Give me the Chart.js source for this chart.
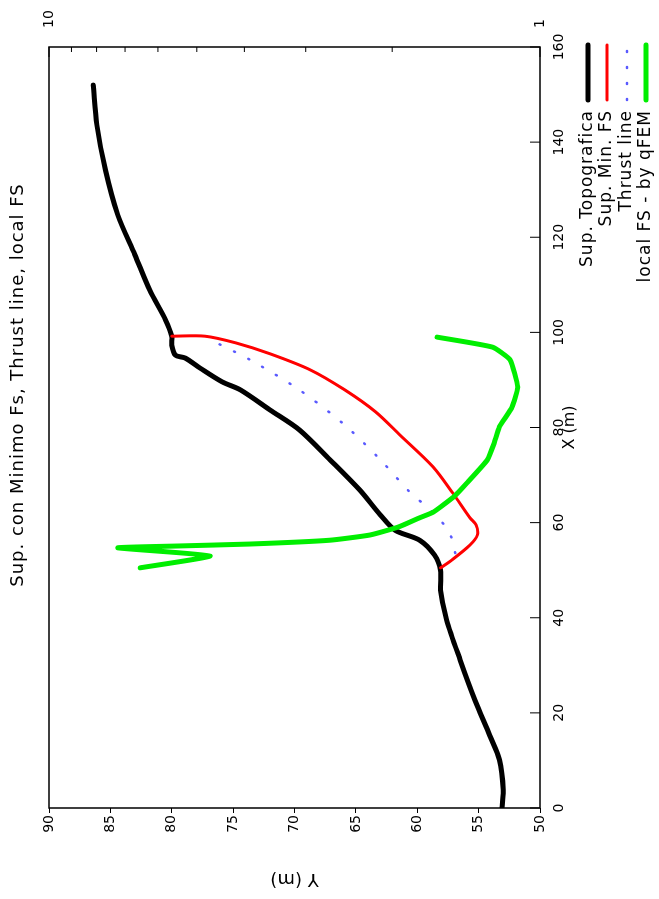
<!DOCTYPE html>
<html>
<head>
<meta charset="utf-8">
<title>Sup. con Minimo Fs</title>
<script src="https://cdn.jsdelivr.net/npm/chart.js@4.4.1/dist/chart.umd.min.js"></script>
<style>
  html, body { margin: 0; padding: 0; background: #fff; overflow: hidden; }
  /* the chart is drawn upright on a 899x659 canvas, then turned a quarter left */
  #wrap { position: absolute; left: 0; top: 0; width: 899px; height: 659px;
          transform-origin: 0 0; transform: translate(0, 899px) rotate(-90deg); }
</style>
</head>
<body>
<div id="wrap"><canvas id="chart" width="899" height="659"></canvas></div>
<script>
// Sup. Topografica (black)
const topoX = [0, 3.8, 10.1, 15.3, 22.7, 31.1, 39.5, 45.8, 50.0, 53.2, 56.3, 58.4, 61.6, 66.9, 73.2, 79.5, 83.7, 87.9, 89.6, 92.5, 94.6, 95.2, 97.3, 99.2, 102.6, 108.9, 116.3, 124.7, 134.1, 143.6, 152.0];
const topoY = [53.1, 53.0, 53.3, 54.1, 55.3, 56.5, 57.6, 58.1, 58.1, 58.6, 59.8, 61.8, 63.0, 64.7, 67.1, 69.6, 72.0, 74.4, 75.9, 77.7, 78.9, 79.7, 80.0, 80.0, 80.5, 81.8, 83.0, 84.4, 85.4, 86.1, 86.4];

// Sup. Min. FS (red)
const minX = [50.5, 52.1, 55.3, 57.4, 59.5, 61.0, 66.2, 71.7, 78.4, 83.3, 87.9, 92.1, 95.5, 97.8, 99.2, 99.2];
const minY = [58.1, 57.2, 55.7, 55.1, 55.2, 55.7, 57.1, 58.7, 61.4, 63.4, 65.9, 68.7, 72.0, 74.8, 77.3, 80.0];

// Thrust line (blue dots)
const thrustX = [53.6, 57.4, 60.8, 63.7, 66.4, 73.2, 80.5, 87.9, 94.2, 98.0];
const thrustY = [56.9, 57.3, 58.2, 59.4, 60.6, 63.0, 65.9, 69.6, 73.6, 76.5];

// local FS - by qFEM (green, right log axis)
const fsX = [99.0, 96.9, 94.2, 88.5, 84.3, 80.1, 76.7, 73.2, 68.3, 65.4, 62.2, 61.0, 59.1, 57.4, 56.3, 55.5, 55.1, 54.7, 53.0, 50.5];
const fsVal = [1.62, 1.25, 1.15, 1.11, 1.14, 1.21, 1.24, 1.28, 1.41, 1.50, 1.65, 1.76, 1.94, 2.22, 2.68, 3.90, 5.41, 7.24, 4.70, 6.52];

// ticks
const xTickValues = [0, 20, 40, 60, 80, 100, 120, 140, 160];
const yTickValues = [50, 55, 60, 65, 70, 75, 80, 85, 90];
const y2TickValues = [1, 2, 3, 4, 5, 6, 7, 8, 9, 10];
const y2Labels = [1, 10];

const legendLabels = ['Sup. Topografica', 'Sup. Min. FS', 'Thrust line', 'local FS - by qFEM'];
const titleText = 'Sup. con Minimo Fs, Thrust line, local FS';

const FONT = '"DejaVu Sans", sans-serif';

const zip = (xs, ys) => xs.map((x, i) => ({ x, y: ys[i] }));

// gnuplot-ish extras: frame, inward tics, title, legend
const gnuplotDecor = {
  id: 'gnuplotDecor',
  afterDraw(chart) {
    const { ctx, chartArea: a, scales } = chart;
    ctx.save();
    ctx.strokeStyle = '#000';
    ctx.lineWidth = 1.5;
    ctx.strokeRect(a.left, a.top, a.right - a.left, a.bottom - a.top);

    ctx.lineWidth = 1;
    ctx.beginPath();
    xTickValues.forEach(v => {
      const px = scales.x.getPixelForValue(v);
      ctx.moveTo(px, a.bottom);
      ctx.lineTo(px, a.bottom - 10);
    });
    y2TickValues.forEach(v => {
      const py = scales.y2.getPixelForValue(v);
      const len = y2Labels.includes(v) ? 10 : 5;
      ctx.moveTo(a.right, py);
      ctx.lineTo(a.right - len, py);
    });
    ctx.stroke();

    ctx.fillStyle = '#000';
    ctx.font = '18px ' + FONT;
    ctx.letterSpacing = '1px';
    ctx.textAlign = 'center';
    ctx.textBaseline = 'middle';
    ctx.fillText(titleText, 514, 18);

    // legend: text right-aligned, sample on the right
    ctx.font = '17px ' + FONT;
    const rows = [588, 607, 627, 646];
    chart.data.datasets.forEach((ds, i) => {
      const y = rows[i];
      ctx.fillStyle = '#000';
      ctx.textAlign = 'right';
      ctx.fillText(legendLabels[i], 789, y);
      ctx.beginPath();
      ctx.strokeStyle = ds.borderColor;
      ctx.lineWidth = ds.borderWidth;
      ctx.lineCap = ds.borderCapStyle || 'butt';
      ctx.setLineDash(ds.borderDash || []);
      ctx.moveTo(799, y);
      ctx.lineTo(854, y);
      ctx.stroke();
      ctx.setLineDash([]);
    });
    ctx.restore();
  }
};

const ctx = document.getElementById('chart');
new Chart(ctx, {
  type: 'scatter',
  data: {
    datasets: [
      { label: legendLabels[0], data: zip(topoX, topoY), yAxisID: 'y', showLine: true,
        borderColor: '#000000', borderWidth: 5, tension: 0.3, pointRadius: 0,
        borderCapStyle: 'round', borderJoinStyle: 'round', order: 4 },
      { label: legendLabels[1], data: zip(minX, minY), yAxisID: 'y', showLine: true,
        borderColor: '#ff0000', borderWidth: 3, tension: 0.3, pointRadius: 0,
        borderCapStyle: 'round', borderJoinStyle: 'round', order: 3 },
      { label: legendLabels[2], data: zip(thrustX, thrustY), yAxisID: 'y', showLine: true,
        borderColor: '#5a5aff', borderWidth: 2.5, tension: 0.3, pointRadius: 0,
        borderDash: [1, 15], borderCapStyle: 'round', order: 2 },
      { label: legendLabels[3], data: zip(fsX, fsVal), yAxisID: 'y2', showLine: true,
        borderColor: '#00ee00', borderWidth: 5, tension: 0.15, pointRadius: 0,
        borderCapStyle: 'round', borderJoinStyle: 'round', order: 1 }
    ]
  },
  options: {
    responsive: false,
    animation: false,
    layout: { padding: { top: 49, left: 0, right: 0, bottom: 0 } },
    plugins: { legend: { display: false }, title: { display: false }, tooltip: { enabled: false } },
    scales: {
      x: {
        type: 'linear', position: 'bottom', min: 0, max: 160,
        afterBuildTicks: s => { s.ticks = xTickValues.map(v => ({ value: v })); },
        afterFit: s => { s.height = 119; },
        grid: { display: false, drawTicks: false },
        border: { display: false },
        ticks: { autoSkip: false, maxRotation: 0, padding: 11, color: '#000', font: { family: FONT, size: 14 } },
        title: { display: true, text: 'X (m)', color: '#000', font: { family: FONT, size: 16 }, padding: { bottom: 80 } }
      },
      y: {
        type: 'linear', position: 'left', min: 50, max: 90,
        afterBuildTicks: s => { s.ticks = yTickValues.map(v => ({ value: v })); },
        afterFit: s => { s.width = 91; },
        grid: { display: true, drawOnChartArea: false, drawTicks: true, tickLength: 5, color: '#000' },
        border: { display: false },
        ticks: { autoSkip: false, padding: 2, color: '#000', font: { family: FONT, size: 14 } },
        title: { display: true, text: 'Y (m)', color: '#000', font: { family: FONT, size: 18 }, padding: { top: 10 } }
      },
      y2: {
        type: 'logarithmic', position: 'right', min: 1, max: 10,
        afterBuildTicks: s => { s.ticks = y2TickValues.map(v => ({ value: v })); },
        afterFit: s => { s.width = 47; },
        grid: { display: false, drawTicks: false },
        border: { display: false },
        ticks: { autoSkip: false, padding: 19, color: '#000', font: { family: FONT, size: 14 },
                 callback: v => y2Labels.includes(v) ? String(v) : '' }
      }
    }
  },
  plugins: [gnuplotDecor]
});
</script>
</body>
</html>
